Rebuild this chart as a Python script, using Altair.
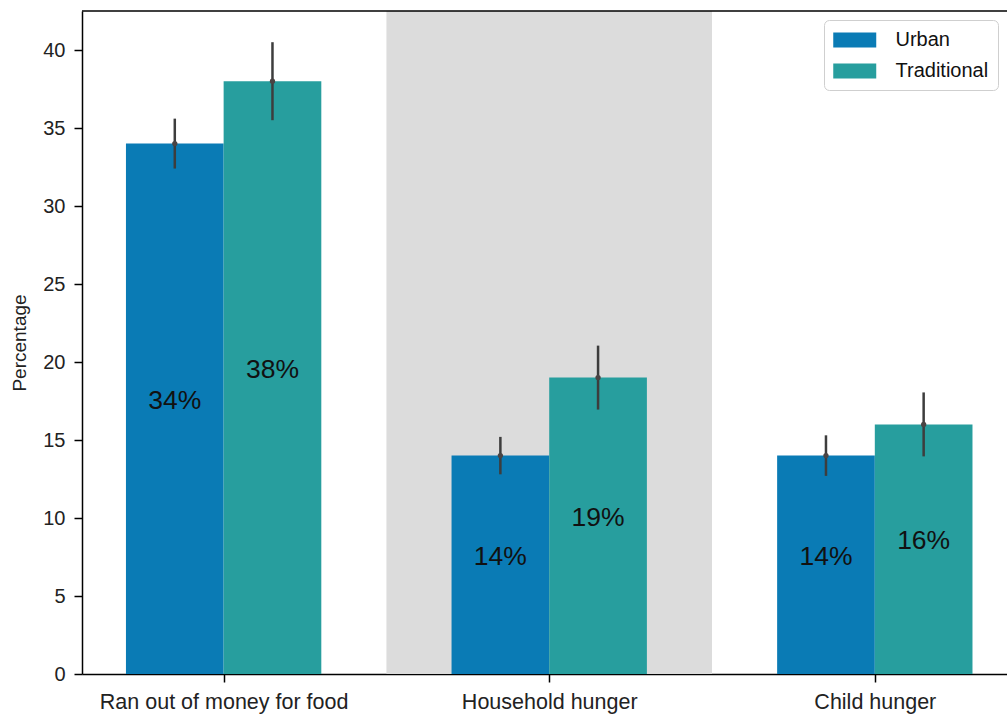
import json
import altair as alt
import pandas as pd

categories = ["Ran out of money for food", "Household hunger", "Child hunger"]
groups = ["Urban", "Traditional"]
urban_values = [34, 14, 14]
traditional_values = [38, 19, 16]
urban_errors = [1.6, 1.2, 1.3]
traditional_errors = [2.5, 2.05, 2.05]
highlighted = ["Household hunger"]
colors = ["#0a7bb5", "#279e9e"]

rows = []
series = {"Urban": (urban_values, urban_errors), "Traditional": (traditional_values, traditional_errors)}
for i, c in enumerate(categories):
    for g in groups:
        vals, errs = series[g]
        rows.append({"category": c, "idx": i, "group": g, "value": vals[i],
                     "err": errs[i], "label": f"{vals[i]}%"})
df = pd.DataFrame(rows)
span_df = pd.DataFrame({"category": highlighted,
                        "idx": [categories.index(c) for c in highlighted]})

W, H = 925, 663
FONT = "Liberation Sans"

xscale = alt.Scale(domain=[-0.435, 2.406], nice=False, zero=False)
yscale = alt.Scale(domain=[0, 42.5], nice=False)
xaxis = alt.Axis(values=[0, 1, 2], title=None, labelExpr=f"{json.dumps(categories)}[datum.value]",
                 labelPadding=9, labelFontSize=21.5, labelLimit=0)
yaxis = alt.Axis(values=[0, 5, 10, 15, 20, 25, 30, 35, 40], title="Percentage",
                 titleFontSize=19, titleFontWeight="normal", titleX=-57, titleBaseline="alphabetic",
                 labelPadding=9, labelFontSize=20)

span = alt.Chart(span_df).transform_calculate(
    s0="datum.idx - 0.5", s1="datum.idx + 0.5"
).mark_rect(color="#dcdcdc").encode(
    x=alt.X("s0:Q", scale=xscale, axis=xaxis),
    x2="s1:Q",
    y=alt.value(0), y2=alt.value(H)
)

base = alt.Chart(df).transform_calculate(
    pos="datum.idx + (datum.group == 'Urban' ? -0.15 : 0.15)"
).transform_calculate(
    x0="datum.pos - 0.15", x1="datum.pos + 0.15",
    lo="datum.value - datum.err", hi="datum.value + datum.err",
    half="datum.value / 2"
)

bars = base.mark_bar().encode(
    x=alt.X("x0:Q", scale=xscale, axis=xaxis),
    x2="x1:Q",
    y=alt.Y("value:Q", scale=yscale, axis=yaxis),
    y2=alt.datum(0),
    color=alt.Color("group:N", scale=alt.Scale(domain=groups, range=colors),
                    legend=alt.Legend(title=None, orient="none", legendX=742, legendY=9,
                                      fillColor="white", strokeColor="#cfcfcf", cornerRadius=5,
                                      padding=9, labelFontSize=20, labelFont=FONT, labelColor="#111",
                                      labelOffset=40.5, rowPadding=10,
                                      symbolType="M-1,-0.7L3,-0.7L3,0.7L-1,0.7Z",
                                      symbolSize=462, symbolStrokeWidth=0, symbolOpacity=1)),
)

errs = base.mark_rule(color="#3d3d3d", strokeWidth=2.5).encode(
    x=alt.X("pos:Q", scale=xscale, axis=xaxis),
    y=alt.Y("lo:Q", scale=yscale, axis=yaxis),
    y2="hi:Q",
)
dots = base.mark_circle(size=28, color="#4a4444", opacity=1).encode(
    x=alt.X("pos:Q", scale=xscale, axis=xaxis),
    y=alt.Y("value:Q", scale=yscale, axis=yaxis),
)
labels = base.mark_text(fontSize=26.5, font=FONT, baseline="middle", dy=-8, color="#111").encode(
    x=alt.X("pos:Q", scale=xscale, axis=xaxis),
    y=alt.Y("half:Q", scale=yscale, axis=yaxis),
    text="label:N",
)
top_spine = alt.Chart(span_df).mark_rule(color="black", strokeWidth=1.5).encode(
    x=alt.value(0), x2=alt.value(W), y=alt.value(0)
)

chart = alt.layer(span, bars, errs, dots, labels, top_spine).properties(
    width=W, height=H,
    autosize=alt.AutoSizeParams(type="none"),
    padding={"left": 82, "top": 11, "right": 0, "bottom": 41},
    background="white",
).configure_view(stroke=None).configure_axis(
    grid=False, domainColor="black", domainWidth=1.5, tickColor="black", tickWidth=1.5,
    tickSize=8, labelFont=FONT, titleFont=FONT, labelColor="#222", titleColor="#222",
)

chart.save("out.html", embed_options={"renderer": "svg", "actions": False})
